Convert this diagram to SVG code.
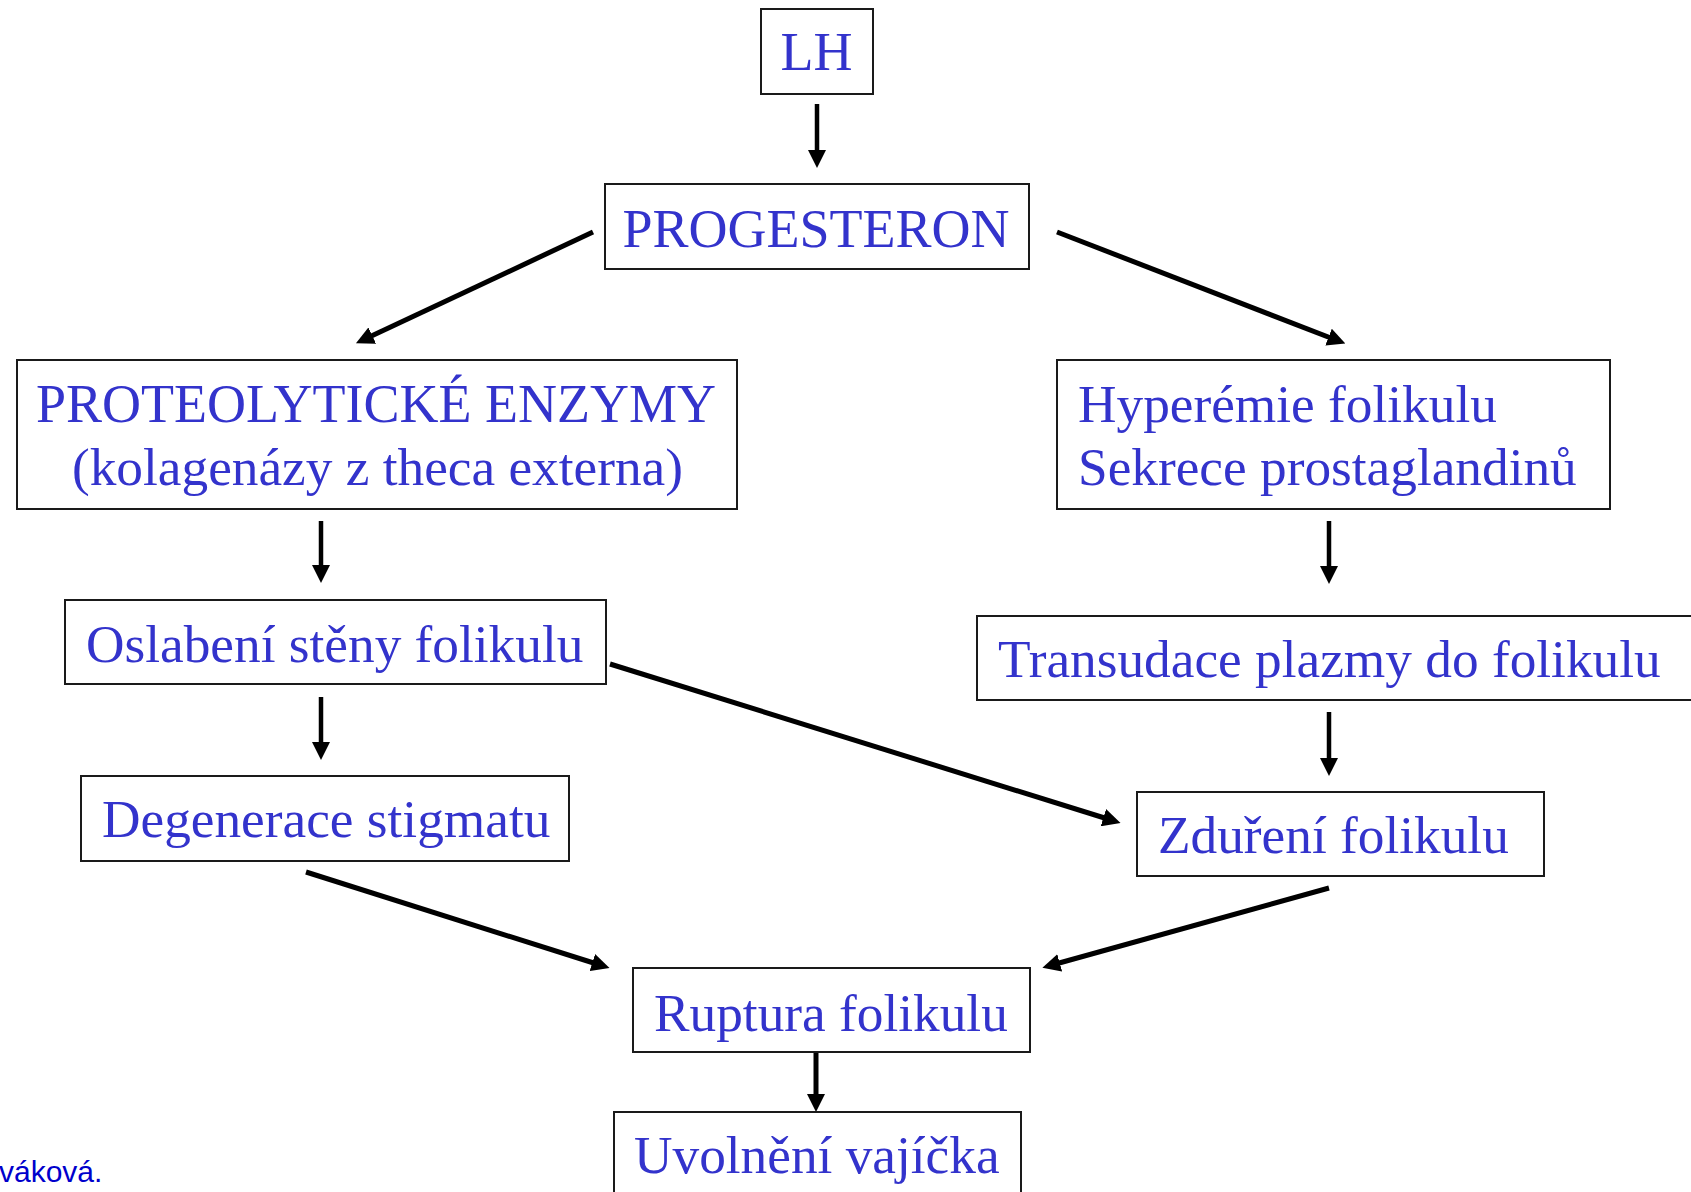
<svg xmlns="http://www.w3.org/2000/svg" width="1691" height="1192" viewBox="0 0 1691 1192">
<style>
.box{fill:#ffffff;stroke:#1a1a1a;stroke-width:2}
.t{font-family:"Liberation Serif","Times New Roman",serif;font-size:53.3px;fill:#3333cc}
.k{font-size:54px}
.c{text-anchor:middle}
.a{stroke:#000;stroke-width:4.5;fill:none;marker-end:url(#ah)}
.d{stroke-width:5}
.foot{font-family:"Liberation Sans",Arial,sans-serif;font-size:30px;fill:#0000cc}
</style>
<defs>
<marker id="ah" markerUnits="userSpaceOnUse" markerWidth="18" markerHeight="18" viewBox="0 0 18 18" refX="8" refY="9" orient="auto">
<path d="M0,0 L18,9 L0,18 z" fill="#000"/>
</marker>
</defs>
<rect width="1691" height="1192" fill="#fff"/>
<g id="connectors">
<path class="a" d="M817,104 L817,158"/>
<path class="a d" d="M593,232 L365,339"/>
<path class="a d" d="M1057,232 L1336,340"/>
<path class="a" d="M321,521 L321,573"/>
<path class="a" d="M321,697 L321,750"/>
<path class="a" d="M1329,521 L1329,574"/>
<path class="a" d="M1329,712 L1329,766"/>
<path class="a d" d="M610,664 L1111,820"/>
<path class="a d" d="M306,872 L600,965"/>
<path class="a d" d="M1329,888 L1052,965"/>
<path class="a d" d="M816,1048 L816,1102"/>
</g>
<g id="n-lh"><rect class="box" x="761" y="9" width="112" height="85"/><text class="t k c" x="816.5" y="70">LH</text></g>
<g id="n-progesteron"><rect class="box" x="605" y="184" width="424" height="85"/><text class="t k c" x="816" y="247">PROGESTERON</text></g>
<g id="n-proteo"><rect class="box" x="17" y="360" width="720" height="149"/><text class="t k c" x="376" y="422">PROTEOLYTICKÉ ENZYMY</text><text class="t c" x="377.5" y="485">(kolagenázy z theca externa)</text></g>
<g id="n-hyperemie"><rect class="box" x="1057" y="360" width="553" height="149"/><text class="t" x="1078" y="422">Hyperémie folikulu</text><text class="t" x="1078" y="485">Sekrece prostaglandinů</text></g>
<g id="n-oslabeni"><rect class="box" x="65" y="600" width="541" height="84"/><text class="t" x="86" y="662">Oslabení stěny folikulu</text></g>
<g id="n-transudace"><rect class="box" x="977" y="616" width="730" height="84"/><text class="t" x="998" y="677">Transudace plazmy do folikulu</text></g>
<g id="n-degenerace"><rect class="box" x="81" y="776" width="488" height="85"/><text class="t" x="102" y="837">Degenerace stigmatu</text></g>
<g id="n-zdureni"><rect class="box" x="1137" y="792" width="407" height="84"/><text class="t" x="1158" y="853">Zduření folikulu</text></g>
<g id="n-ruptura"><rect class="box" x="633" y="968" width="397" height="84"/><text class="t" x="654" y="1031">Ruptura folikulu</text></g>
<g id="n-uvolneni"><rect class="box" x="614" y="1112" width="407" height="100"/><text class="t" x="634" y="1173">Uvolnění vajíčka</text></g>
<g id="footer"><text class="foot" x="-1" y="1182">váková.</text></g>
</svg>
